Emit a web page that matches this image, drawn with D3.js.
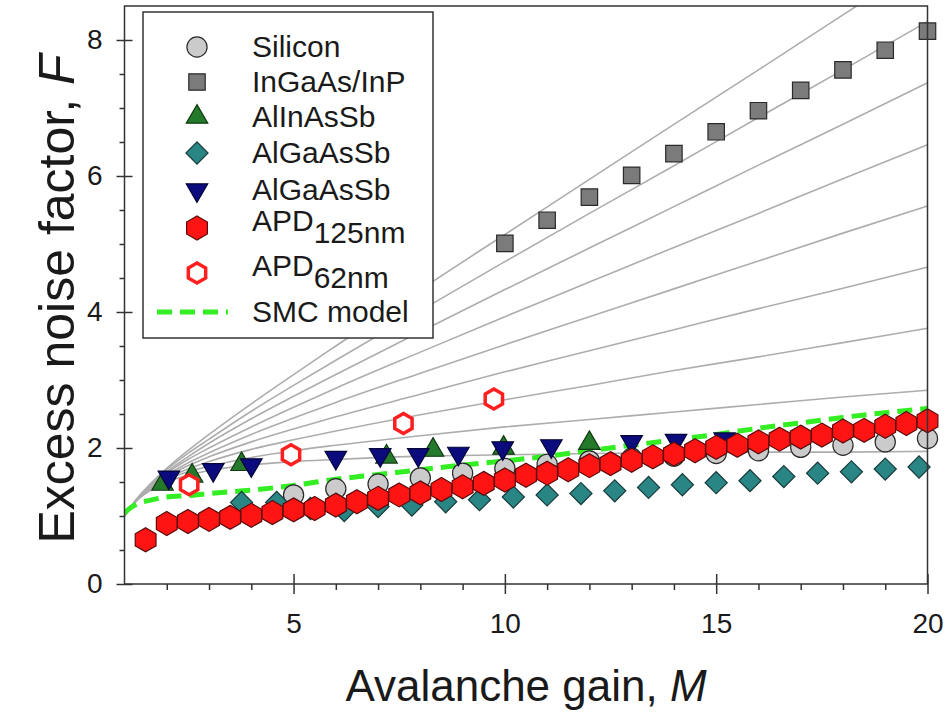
<!DOCTYPE html>
<html><head><meta charset="utf-8">
<script src="https://cdn.jsdelivr.net/npm/d3@7"></script>
<style>body{margin:0;background:#fff}svg{display:block}text{font-family:"Liberation Sans",Arial,sans-serif;fill:#1a1a1a}</style>
</head><body>
<svg id="c" width="946" height="714"></svg>
<script>
// ---------------- data ----------------
const xMajorTicks = [5, 10, 15, 20];
const xMinorTicks = [2, 3, 4, 6, 7, 8, 9, 11, 12, 13, 14, 16, 17, 18, 19];
const yMajorTicks = [0, 2, 4, 6, 8];
const yMinorTicks = [0.5, 1, 1.5, 2.5, 3, 3.5, 4.5, 5, 5.5, 6.5, 7, 7.5];

const gridM = [1, 1.25, 1.5, 2, 2.5, 3, 4, 5, 6, 8, 10, 12, 14, 16, 18, 20];
const refCurves = [
  [1, 1.20, 1.33, 1.50, 1.60, 1.67, 1.75, 1.80, 1.83, 1.88, 1.90, 1.92, 1.93, 1.94, 1.94, 1.95],
  [1, 1.20, 1.34, 1.53, 1.65, 1.73, 1.86, 1.96, 2.04, 2.18, 2.31, 2.42, 2.53, 2.64, 2.75, 2.85],
  [1, 1.21, 1.35, 1.55, 1.69, 1.80, 1.98, 2.12, 2.25, 2.49, 2.71, 2.92, 3.14, 3.34, 3.55, 3.76],
  [1, 1.21, 1.36, 1.58, 1.74, 1.87, 2.09, 2.28, 2.46, 2.79, 3.12, 3.43, 3.74, 4.05, 4.35, 4.66],
  [1, 1.21, 1.37, 1.60, 1.78, 1.93, 2.20, 2.44, 2.67, 3.10, 3.52, 3.93, 4.34, 4.75, 5.16, 5.56],
  [1, 1.21, 1.38, 1.63, 1.83, 2.00, 2.31, 2.60, 2.88, 3.41, 3.93, 4.44, 4.95, 5.45, 5.96, 6.46],
  [1, 1.22, 1.38, 1.65, 1.87, 2.07, 2.43, 2.76, 3.08, 3.71, 4.33, 4.94, 5.55, 6.16, 6.76, 7.37],
  [1, 1.22, 1.39, 1.68, 1.92, 2.13, 2.54, 2.92, 3.29, 4.02, 4.74, 5.45, 6.15, 6.86, 7.56, 8.27],
  [1, 1.22, 1.40, 1.70, 1.96, 2.20, 2.65, 3.08, 3.50, 4.33, 5.14, 5.95, 6.76, 7.56, 8.37, 9.17]
];

// SMC model
const smcM = [1, 1.1, 1.3, 1.6, 2, 2.5, 3, 4, 5, 6, 7, 8, 9, 10, 11, 12, 13, 14, 15, 16, 17, 18, 19, 20];
const smcF = [1.04, 1.10, 1.18, 1.23, 1.28, 1.30, 1.33, 1.38, 1.45, 1.54, 1.61, 1.68, 1.75, 1.81, 1.88, 1.96, 2.04, 2.12, 2.20, 2.29, 2.37, 2.45, 2.52, 2.58];

// Silicon
const siM = [5, 6, 7, 8, 9, 10, 11, 12, 13, 14, 15, 16, 17, 18, 19, 20];
const siF = [1.31, 1.40, 1.47, 1.56, 1.63, 1.70, 1.76, 1.81, 1.85, 1.88, 1.92, 1.96, 2.01, 2.04, 2.09, 2.14];

// InGaAs/InP
const ingaM = [10, 11, 12, 13, 14, 15, 16, 17, 18, 19, 20];
const ingaF = [5.01, 5.35, 5.69, 6.01, 6.33, 6.65, 6.96, 7.26, 7.56, 7.85, 8.13];

// AlInAsSb
const alinM = [1.9, 2.6, 3.77, 7.2, 8.3, 9.97, 12.0];
const alinF = [1.47, 1.59, 1.76, 1.87, 1.97, 2.00, 2.07];

// AlGaAsSb (diamonds)
const algaDM = [3.77, 4.6, 5.4, 6.2, 7.0, 7.8, 8.6, 9.4, 10.2, 11.0, 11.8, 12.6, 13.4, 14.2, 15.0, 15.8, 16.6, 17.4, 18.2, 19.0, 19.8];
const algaDF = [1.20, 1.20, 1.11, 1.08, 1.14, 1.16, 1.21, 1.24, 1.28, 1.31, 1.33, 1.37, 1.42, 1.46, 1.49, 1.52, 1.58, 1.63, 1.65, 1.69, 1.72];

// AlGaAsSb (down triangles)
const algaTM = [2.05, 3.1, 4.0, 6.0, 7.05, 7.95, 8.9, 9.95, 11.1, 13.0, 14.05, 15.2];
const algaTF = [1.57, 1.68, 1.75, 1.86, 1.90, 1.90, 1.92, 2.00, 2.03, 2.09, 2.11, 2.13];

// APD 125 nm
const apd125M = [1.5, 2, 2.5, 3, 3.5, 4, 4.5, 5, 5.5, 6, 6.5, 7, 7.5, 8, 8.5, 9, 9.5, 10, 10.5, 11, 11.5, 12, 12.5, 13, 13.5, 14, 14.5, 15, 15.5, 16, 16.5, 17, 17.5, 18, 18.5, 19, 19.5, 20];
const apd125F = [0.65, 0.89, 0.92, 0.95, 0.98, 1.01, 1.05, 1.09, 1.11, 1.16, 1.21, 1.26, 1.31, 1.34, 1.39, 1.43, 1.48, 1.53, 1.60, 1.63, 1.68, 1.74, 1.77, 1.82, 1.87, 1.91, 1.96, 2.01, 2.04, 2.09, 2.13, 2.16, 2.19, 2.25, 2.26, 2.32, 2.36, 2.40];

// APD 62 nm
const apd62M = [2.53, 4.94, 7.6, 9.74];
const apd62F = [1.46, 1.90, 2.36, 2.72];

const xTitle = "Avalanche gain, ";
const xTitleVar = "M";
const yTitle = "Excess noise factor, ";
const yTitleVar = "F";

// ---------------- chart ----------------
const svg = d3.select("#c");
const x = d3.scaleLinear().domain([1, 20]).range([124.5, 927.5]);
const y = d3.scaleLinear().domain([0, 8.5]).range([584, 6]);

svg.append("defs").append("clipPath").attr("id", "clip")
  .append("rect").attr("x", x(1)).attr("y", y(8.5)).attr("width", x(20) - x(1)).attr("height", y(0) - y(8.5));

const plot = svg.append("g").attr("clip-path", "url(#clip)");

// grey curves
const refLine = d3.line().x((d, i) => x(gridM[i])).y(d => y(d)).curve(d3.curveMonotoneX);
plot.selectAll("path.ref").data(refCurves).join("path").attr("class", "ref")
  .attr("d", refLine).attr("fill", "none").attr("stroke", "#adadad").attr("stroke-width", 1.6);

// SMC dashed line
const smcLine = d3.line().x(d => x(d[0])).y(d => y(d[1])).curve(d3.curveMonotoneX);
plot.append("path").datum(d3.zip(smcM, smcF)).attr("d", smcLine)
  .attr("fill", "none").attr("stroke", "#33ee22").attr("stroke-width", 5).attr("stroke-dasharray", "15,8");

// marker shape generators
function hexPath(R) {
  const pts = d3.range(6).map(i => {
    const a = Math.PI / 3 * i - Math.PI / 2;
    return [R * Math.cos(a), R * Math.sin(a)];
  });
  return d3.line()(pts) + "Z";
}
const shapes = {
  circle: () => d3.symbol(d3.symbolCircle, 320)(),
  square: () => d3.symbol(d3.symbolSquare, 270)(),
  triUp: () => d3.symbol(d3.symbolTriangle, 200)(),
  triDown: () => d3.symbol(d3.symbolTriangle, 200)(),
  diamond: () => d3.symbol(d3.symbolSquare, 245)(),
  hex: () => hexPath(12),
  hexOpen: () => hexPath(10)
};
const rot = { triDown: 180, diamond: 45 };

const series = [
  { name: "Silicon", M: siM, F: siF, shape: "circle", fill: "#cbcbcb", stroke: "#2a2a2a", sw: 1.2 },
  { name: "InGaAs/InP", M: ingaM, F: ingaF, shape: "square", fill: "#7b7b7b", stroke: "#2a2a2a", sw: 1.2 },
  { name: "AlGaAsSbD", M: algaDM, F: algaDF, shape: "diamond", fill: "#2a8585", stroke: "#173a3a", sw: 1.2 },
  { name: "AlInAsSb", M: alinM, F: alinF, shape: "triUp", fill: "#25792a", stroke: "#103a12", sw: 1.2 },
  { name: "AlGaAsSbT", M: algaTM, F: algaTF, shape: "triDown", fill: "#0b0b7e", stroke: "#05053a", sw: 1.2 },
  { name: "APD62", M: apd62M, F: apd62F, shape: "hexOpen", fill: "#ffffff", stroke: "#ff1f1f", sw: 3.5 },
  { name: "APD125", M: apd125M, F: apd125F, shape: "hex", fill: "#ff1414", stroke: "#5a0a0a", sw: 1.2 }
];

const marks = svg.append("g");
series.forEach(s => {
  marks.append("g").selectAll("path").data(d3.zip(s.M, s.F)).join("path")
    .attr("d", shapes[s.shape]())
    .attr("transform", d => `translate(${x(d[0])},${y(d[1])}) rotate(${rot[s.shape] || 0})`)
    .attr("fill", s.fill).attr("stroke", s.stroke).attr("stroke-width", s.sw);
});

// axes
const axStyle = g => { g.select(".domain").remove(); g.selectAll("line").attr("stroke", "#333").attr("stroke-width", 1.5); };
svg.append("g").attr("transform", `translate(0,${y(0)})`)
  .call(d3.axisBottom(x).tickValues(xMajorTicks).tickSize(10).tickPadding(19).tickFormat(d3.format("d")))
  .call(axStyle).call(g => g.selectAll("text").attr("font-size", 28).attr("fill", "#1a1a1a").attr("font-family", "Liberation Sans, Arial, sans-serif"));
svg.append("g").attr("transform", `translate(0,${y(0)})`)
  .call(d3.axisTop(x).tickValues(xMajorTicks).tickSize(10).tickFormat("")).call(axStyle);
svg.append("g").attr("transform", `translate(0,${y(0)})`)
  .call(d3.axisBottom(x).tickValues(xMinorTicks).tickSize(6).tickFormat("")).call(axStyle);

svg.append("g").attr("transform", `translate(${x(1)},0)`)
  .call(d3.axisLeft(y).tickValues(yMajorTicks).tickSize(8).tickPadding(14).tickFormat(d3.format("d")))
  .call(axStyle).call(g => g.selectAll("text").attr("font-size", 28).attr("fill", "#1a1a1a").attr("font-family", "Liberation Sans, Arial, sans-serif"));
svg.append("g").attr("transform", `translate(${x(1)},0)`)
  .call(d3.axisRight(y).tickValues(yMajorTicks).tickSize(8).tickFormat("")).call(axStyle);
svg.append("g").attr("transform", `translate(${x(1)},0)`)
  .call(d3.axisLeft(y).tickValues(yMinorTicks).tickSize(5).tickFormat("")).call(axStyle);

// frame
svg.append("rect").attr("x", x(1)).attr("y", y(8.5)).attr("width", x(20) - x(1)).attr("height", y(0) - y(8.5))
  .attr("fill", "none").attr("stroke", "#333").attr("stroke-width", 1.5);

// axis titles
const xt = svg.append("text").attr("x", 526).attr("y", 701).attr("text-anchor", "middle").attr("font-size", 44);
xt.append("tspan").text(xTitle);
xt.append("tspan").attr("font-style", "italic").text(xTitleVar);
const yt = svg.append("text").attr("transform", "translate(74,299) rotate(-90)").attr("text-anchor", "middle").attr("font-size", 50);
yt.append("tspan").text(yTitle);
yt.append("tspan").attr("font-style", "italic").text(yTitleVar);

// legend
const legendItems = [
  { label: "Silicon", sub: null, shape: "circle", s: series[0], cy: 47 },
  { label: "InGaAs/InP", sub: null, shape: "square", s: series[1], cy: 82 },
  { label: "AlInAsSb", sub: null, shape: "triUp", s: series[3], cy: 117 },
  { label: "AlGaAsSb", sub: null, shape: "diamond", s: series[2], cy: 153 },
  { label: "AlGaAsSb", sub: null, shape: "triDown", s: series[4], cy: 190 },
  { label: "APD", sub: "125nm", shape: "hex", s: series[6], cy: 228 },
  { label: "APD", sub: "62nm", shape: "hexOpen", s: series[5], cy: 273 }
];
const lg = svg.append("g");
lg.append("rect").attr("x", 143).attr("y", 12).attr("width", 290).attr("height", 326)
  .attr("fill", "#fff").attr("stroke", "#333").attr("stroke-width", 1.5);
legendItems.forEach(it => {
  lg.append("path").attr("d", shapes[it.shape]())
    .attr("transform", `translate(197,${it.cy}) rotate(${rot[it.shape] || 0})`)
    .attr("fill", it.s.fill).attr("stroke", it.s.stroke).attr("stroke-width", it.s.sw);
  const t = lg.append("text").attr("x", 252).attr("font-size", 30);
  if (it.sub) {
    t.attr("y", it.cy + 3);
    t.append("tspan").text(it.label);
    t.append("tspan").attr("dy", 12).text(it.sub);
  } else {
    t.attr("y", it.cy + 10).text(it.label);
  }
});
lg.append("line").attr("x1", 157).attr("x2", 228).attr("y1", 312).attr("y2", 312)
  .attr("stroke", "#33ee22").attr("stroke-width", 5).attr("stroke-dasharray", "15,8");
lg.append("text").attr("x", 252).attr("y", 322).attr("font-size", 30).text("SMC model");
</script>
</body></html>
